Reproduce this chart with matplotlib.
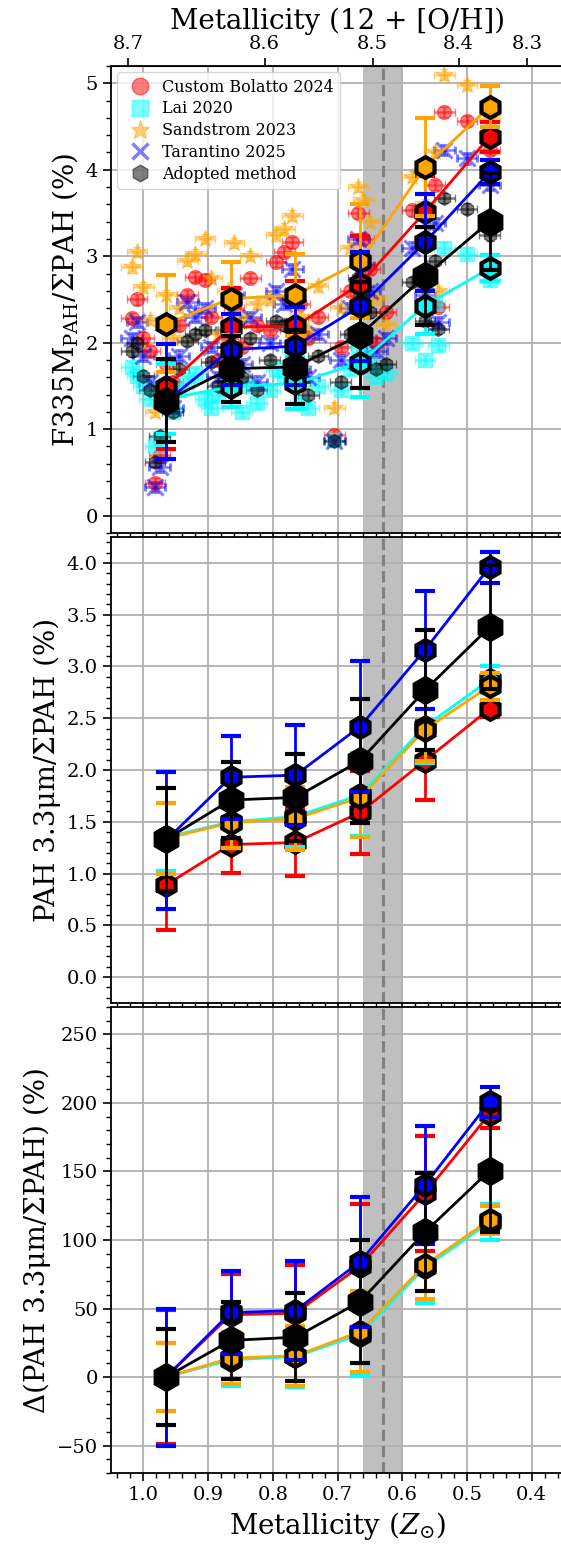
import matplotlib.pyplot as plt
from matplotlib.lines import Line2D
from matplotlib.ticker import MultipleLocator
import numpy as np

plt.rcParams['font.family'] = ['DejaVu Serif']
plt.rcParams['mathtext.fontset'] = 'dejavuserif'

# ---- individual regions (top panel) ----
reg_z = [1.018, 1.010, 1.000, 0.990, 0.982, 0.975, 0.965, 0.955, 0.945, 0.932, 0.920,
         0.905, 0.895, 0.885, 0.870, 0.860, 0.848, 0.835, 0.825,
         0.805, 0.795, 0.782, 0.770, 0.758, 0.745, 0.730, 0.705,
         0.695, 0.680, 0.668, 0.660, 0.650, 0.640, 0.625,
         0.585, 0.565, 0.550, 0.544, 0.535, 0.500, 0.465]
reg_bolatto = [2.28, 2.50, 2.06, 1.90, 0.38, 0.70, 1.75, 1.55, 2.20, 2.55, 2.76,
               2.73, 2.30, 1.80, 2.05, 2.40, 1.95, 2.75, 2.20,
               2.15, 2.93, 3.05, 3.16, 2.45, 2.05, 2.30, 0.93,
               1.95, 2.60, 3.50, 3.20, 2.85, 2.00, 2.35,
               3.53, 3.20, 3.82, 2.41, 4.67, 4.56, 4.23]
reg_lai = [1.72, 1.62, 1.50, 1.35, 0.80, 0.90, 1.30, 1.20, 1.45, 1.55, 1.65,
           1.35, 1.25, 1.40, 1.55, 1.65, 1.20, 1.50, 1.30,
           1.45, 1.70, 1.60, 1.90, 1.30, 1.25, 1.50, 0.88,
           1.45, 1.70, 1.95, 1.85, 1.75, 1.60, 1.65,
           2.00, 1.80, 2.45, 1.97, 3.10, 3.03, 2.72]
reg_sandstrom = [2.87, 3.05, 2.64, 2.26, 1.20, 1.45, 2.55, 2.05, 2.40, 2.95, 3.02,
                 3.20, 2.75, 2.10, 2.60, 3.15, 2.30, 3.00, 2.45,
                 2.50, 3.24, 3.32, 3.47, 2.30, 2.15, 2.65, 1.25,
                 2.40, 3.10, 3.80, 3.65, 3.40, 2.50, 2.20,
                 3.92, 3.60, 4.20, 2.60, 5.10, 4.98, 4.60]
reg_tarantino = [2.05, 2.24, 1.85, 1.55, 0.33, 0.56, 1.40, 1.25, 1.85, 2.47, 2.30,
                 2.40, 1.95, 1.60, 2.15, 2.55, 1.75, 2.30, 1.55,
                 2.00, 2.60, 2.45, 2.85, 1.70, 1.60, 2.10, 0.86,
                 1.80, 2.40, 3.20, 2.90, 2.60, 1.90, 2.05,
                 3.10, 2.55, 3.38, 2.24, 4.23, 4.13, 3.82]
reg_adopted = [1.90, 2.00, 1.62, 1.45, 0.62, 0.92, 1.35, 1.20, 1.70, 2.02, 2.10,
               2.15, 1.78, 1.50, 1.95, 2.20, 1.60, 2.05, 1.45,
               1.80, 2.25, 2.20, 2.50, 1.55, 1.40, 1.85, 0.86,
               1.55, 2.10, 2.75, 2.55, 2.35, 1.70, 1.75,
               2.70, 2.25, 2.95, 2.16, 3.67, 3.55, 3.24]

# ---- binned values ----
bin_z = [0.965, 0.865, 0.765, 0.665, 0.565, 0.465]

f335_bolatto = [1.49, 2.18, 2.19, 2.68, 3.51, 4.38]
f335_bolatto_err = [0.72, 0.45, 0.52, 0.55, 0.42, 0.17]
f335_lai = [1.35, 1.49, 1.53, 1.77, 2.43, 2.86]
f335_lai_err = [0.40, 0.23, 0.30, 0.40, 0.33, 0.15]
f335_sandstrom = [2.22, 2.51, 2.55, 2.94, 4.03, 4.73]
f335_sandstrom_err = [0.56, 0.42, 0.47, 0.66, 0.57, 0.24]
f335_tarantino = [1.32, 1.92, 1.96, 2.42, 3.16, 3.97]
f335_tarantino_err = [0.66, 0.41, 0.45, 0.63, 0.56, 0.14]
f335_adopted = [1.33, 1.70, 1.72, 2.09, 2.77, 3.40]
f335_adopted_err = [0.48, 0.38, 0.43, 0.61, 0.57, 0.56]

pah_bolatto = [0.89, 1.28, 1.30, 1.59, 2.09, 2.59]
pah_bolatto_err = [0.44, 0.27, 0.32, 0.40, 0.38, 0.08]
pah_lai = [1.35, 1.50, 1.55, 1.76, 2.42, 2.87]
pah_lai_err = [0.33, 0.25, 0.29, 0.40, 0.35, 0.13]
pah_sandstrom = [1.34, 1.49, 1.53, 1.735, 2.39, 2.81]
pah_sandstrom_err = [0.34, 0.24, 0.30, 0.38, 0.30, 0.13]
pah_tarantino = [1.32, 1.93, 1.95, 2.42, 3.16, 3.96]
pah_tarantino_err = [0.66, 0.40, 0.48, 0.63, 0.57, 0.15]
pah_adopted = [1.33, 1.71, 1.735, 2.09, 2.77, 3.38]
pah_adopted_err = [0.50, 0.37, 0.42, 0.60, 0.58, 0.60]

d_bolatto = [0, 45.4, 46.6, 81, 134, 192]
d_bolatto_err = [49, 30, 35, 45, 42, 10]
d_lai = [0, 12.5, 15, 31, 80, 113]
d_lai_err = [25, 19, 22, 30, 26, 13]
d_sandstrom = [0, 13.8, 15.5, 33.2, 81.8, 114.7]
d_sandstrom_err = [25, 19, 22, 29.5, 25, 10]
d_tarantino = [0, 47.1, 48.5, 84.2, 140.2, 200.9]
d_tarantino_err = [50, 30, 36, 47.5, 43, 11]
d_adopted = [0, 26.7, 29.1, 55.1, 105.7, 150.6]
d_adopted_err = [35, 28, 32, 45, 43, 45]

methods = ['Custom Bolatto 2024', 'Lai 2020', 'Sandstrom 2023', 'Tarantino 2025', 'Adopted method']
colors = ['red', 'cyan', 'orange', 'blue', 'black']
markers = ['o', 's', '*', 'x', 'h']
msizes = [10, 10, 13, 11, 10]


def draw_binned(ax, vals, errs):
    for i, (v, e) in enumerate(zip(vals, errs)):
        c = colors[i]
        ms = 18 if c == 'black' else 15
        ax.errorbar(bin_z, v, yerr=e, fmt='h-', color=c, mfc=c, mec='black',
                    mew=3, ms=ms, lw=2, elinewidth=2, capsize=7, capthick=2,
                    zorder=4 + i)
        ax.plot(bin_z, v, 'o', color='black', ms=4, zorder=4 + i)


def decorate(ax):
    ax.axvspan(0.60, 0.66, color='gray', alpha=0.5, lw=0, zorder=0)
    ax.axvline(0.63, color='gray', ls='--', lw=2.2, zorder=1)
    ax.grid(True, color='#b0b0b0', lw=1.3, zorder=0)
    ax.set_axisbelow(True)
    ax.xaxis.set_major_locator(MultipleLocator(0.1))
    ax.xaxis.set_minor_locator(MultipleLocator(0.02))
    ax.tick_params(which='major', length=6, width=1.2, labelsize=14)
    ax.tick_params(which='minor', length=3.5, width=1.0)
    for s in ax.spines.values():
        s.set_linewidth(1.3)


fig = plt.figure(figsize=(5.61, 15.44), dpi=100)
left, width = 0.1979, 0.8075
ax1 = fig.add_axes([left, 0.6548, width, 0.3025])
ax2 = fig.add_axes([left, 0.3504, width, 0.3018], sharex=ax1)
ax3 = fig.add_axes([left, 0.0460, width, 0.3018], sharex=ax1)

# top panel: individual regions
reg_sets = [reg_bolatto, reg_lai, reg_sandstrom, reg_tarantino, reg_adopted]
for i, ys in enumerate(reg_sets):
    ax1.errorbar(reg_z, ys, xerr=0.016, yerr=0.06, fmt=markers[i], color=colors[i],
                 ms=msizes[i], mew=2.2 if markers[i] == 'x' else 1, alpha=0.5,
                 elinewidth=1.8, capsize=3, zorder=2)

draw_binned(ax1, [f335_bolatto, f335_lai, f335_sandstrom, f335_tarantino, f335_adopted],
            [f335_bolatto_err, f335_lai_err, f335_sandstrom_err, f335_tarantino_err, f335_adopted_err])
draw_binned(ax2, [pah_bolatto, pah_lai, pah_sandstrom, pah_tarantino, pah_adopted],
            [pah_bolatto_err, pah_lai_err, pah_sandstrom_err, pah_tarantino_err, pah_adopted_err])
draw_binned(ax3, [d_bolatto, d_lai, d_sandstrom, d_tarantino, d_adopted],
            [d_bolatto_err, d_lai_err, d_sandstrom_err, d_tarantino_err, d_adopted_err])

for ax in (ax1, ax2, ax3):
    decorate(ax)

ax1.set_xlim(1.05, 0.35)

ax1.set_ylim(-0.2, 5.2)
ax1.yaxis.set_major_locator(MultipleLocator(1))
ax1.yaxis.set_minor_locator(MultipleLocator(0.2))
ax1.set_ylabel(r'F335M$_\mathrm{PAH}$/ΣPAH (%)', fontsize=20)

ax2.set_ylim(-0.25, 4.25)
ax2.yaxis.set_major_locator(MultipleLocator(0.5))
ax2.yaxis.set_minor_locator(MultipleLocator(0.1))
ax2.set_ylabel('PAH 3.3μm/ΣPAH (%)', fontsize=20)

ax3.set_ylim(-70, 270)
ax3.yaxis.set_major_locator(MultipleLocator(50))
ax3.yaxis.set_minor_locator(MultipleLocator(10))
ax3.set_ylabel('Δ(PAH 3.3μm/ΣPAH) (%)', fontsize=20)
ax3.set_xlabel(r'Metallicity ($Z_{\odot}$)', fontsize=20)

ax1.tick_params(labelbottom=False)
ax2.tick_params(labelbottom=False)

# top axis in 12 + log(O/H)
sec = ax1.secondary_xaxis('top', functions=(lambda z: 8.69 + np.log10(np.clip(z, 1e-3, None)),
                                            lambda oh: 10 ** (oh - 8.69)))
sec.set_xticks([8.7, 8.6, 8.5, 8.4, 8.3])
sec.tick_params(length=6, width=1.2, labelsize=14)
sec.set_xlabel('Metallicity (12 + [O/H])', fontsize=20)

handles = [Line2D([], [], ls='none', marker=markers[i], color=colors[i],
                  ms=14 if markers[i] == '*' else 12,
                  mew=2.5 if markers[i] == 'x' else 1, alpha=0.5)
           for i in range(5)]
ax1.legend(handles, methods, loc='upper left', fontsize=11.5, handletextpad=0.4,
           labelspacing=0.3, borderaxespad=0.4)

fig.savefig('out.png', dpi=100)
